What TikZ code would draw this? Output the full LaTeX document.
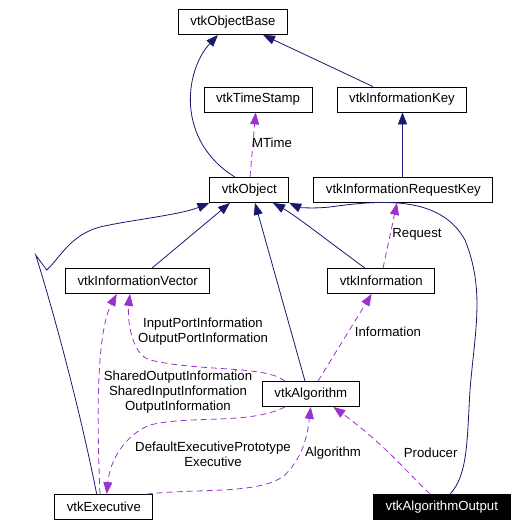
\documentclass[tikz,border=0pt]{standalone}
\usepackage{fontspec}
\setmainfont{Liberation Sans}
\usetikzlibrary{arrows.meta}

\begin{document}
\begin{tikzpicture}[x=1pt, y=-1pt,
    cls/.style={draw, line width=0.8pt, minimum height=25pt, inner xsep=12pt, inner ysep=0pt, font=\fontsize{13.2}{15}\selectfont},
    lbl/.style={inner sep=0pt, align=center, font=\fontsize{13.2}{15}\selectfont},
    inh/.style={draw=navyline, line width=0.8pt, -{Triangle[length=12pt, width=9pt]}},
    use/.style={draw=usepurple, line width=0.8pt, dash pattern=on 6pt off 4pt, -{Triangle[length=12pt, width=9pt]}}]
    % 定义颜色
    \definecolor{navyline}{RGB}{25, 25, 112}
    \definecolor{usepurple}{RGB}{154, 50, 205}

    \useasboundingbox (0,0) rectangle (520,527);

    % 类 (Classes)
    \node[cls] (base) at (233,22) {vtkObjectBase};
    \node[cls] (ts) at (258,99.5) {vtkTimeStamp};
    \node[cls] (key) at (402,99.5) {vtkInformationKey};
    \node[cls] (obj) at (249.3,190) {vtkObject};
    \node[cls] (reqkey) at (403.3,190) {vtkInformationRequestKey};
    \node[cls] (ivec) at (137.7,281) {vtkInformationVector};
    \node[cls] (info) at (381.3,281) {vtkInformation};
    \node[cls] (alg) at (310.8,394) {vtkAlgorithm};
    \node[cls] (exe) at (103.8,507) {vtkExecutive};
    \node[cls, fill=black, text=white] (algout) at (441.8,507) {vtkAlgorithmOutput};

    % 继承 (Inheritance)
    \draw[inh] (obj.north -| 235,0) .. controls (175,140) and (185,70) .. (base.south -| 218,0);
    \draw[inh] (key.north -| 373,0) -- (base.south -| 263,0);
    \draw[inh] (reqkey.north -| 402.5,0) -- (key.south -| 402.5,0);
    \draw[inh] (ivec.north -| 152,0) -- (obj.south -| 230,0);
    \draw[inh] (alg.north -| 305,0) -- (obj.south -| 255,0);
    \draw[inh] (info.north -| 365,0) .. controls (340,250) and (295,215) .. (obj.south -| 273,0);
    \draw[inh] (algout.north -| 450,0) .. controls (468,475) and (467,440) .. (470,390)
        .. controls (475,330) and (485,290) .. (465,240)
        .. controls (440,195) and (380,200) .. (330,207)
        .. controls (310,209) and (298,207) .. (obj.south east);
    \draw[inh] (exe.north -| 96.7,0) .. controls (78,400) and (50,300) .. (35.7,255) -- (46.7,270)
        .. controls (60,258) and (70,235) .. (100,227)
        .. controls (130,220) and (180,215) .. (obj.south west);

    % 成员 (Usage)
    \draw[use] (obj.north -| 250,0) -- (ts.south -| 255.7,0);
    \draw[use] (info.north -| 383,0) -- (reqkey.south -| 397,0);
    \draw[use] (alg.north -| 318,0) -- (info.south -| 371.7,0);
    \draw[use] (alg.north -| 285,0) .. controls (265,365) and (200,372) .. (150,360)
        .. controls (132,355) and (127,320) .. (ivec.south -| 130,0);
    \draw[use] (exe.north -| 100,0) .. controls (96,400) and (98,330) .. (ivec.south -| 116.7,0);
    \draw[use] (alg.south -| 285,0) .. controls (250,425) and (190,415) .. (150,425)
        .. controls (125,435) and (110,460) .. (exe.north -| 106.7,0);
    \draw[use] (exe.north -| 146.7,0) .. controls (200,488) and (260,495) .. (285,475)
        .. controls (305,455) and (308,430) .. (alg.south -| 310.7,0);
    \draw[use] (algout.north -| 430,0) .. controls (405,470) and (385,445) .. (alg.south -| 333.3,0);

    % 标注 (Labels)
    \node[lbl] (mtime) at (272,143) {MTime};
    \node[lbl] (request) at (417,234) {Request};
    \node[lbl] (information) at (388,332) {Information};
    \node[lbl] (portinfo) at (203,332) {InputPortInformation\\OutputPortInformation};
    \node[lbl] (sharedinfo) at (178,392.5) {SharedOutputInformation\\SharedInputInformation\\OutputInformation};
    \node[lbl] (execinfo) at (213,454.5) {DefaultExecutivePrototype\\Executive};
    \node[lbl] (algoinfo) at (333,453) {Algorithm};
    \node[lbl] (producer) at (430.7,453) {Producer};

\end{tikzpicture}
\end{document}
